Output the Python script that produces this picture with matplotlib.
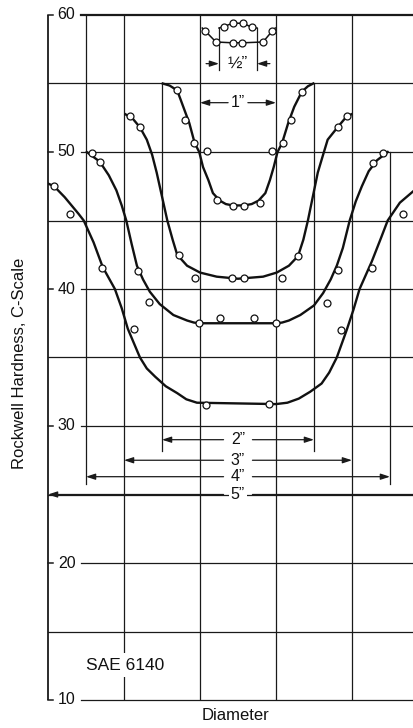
import matplotlib
matplotlib.use("Agg")
import matplotlib.pyplot as plt

plt.rcParams['font.family'] = ['Liberation Sans', 'DejaVu Sans']

# ---------------- data (diameter position in inches, Rockwell C hardness) ----------------
# 1/2" bar
half_x = [-0.25, -0.19, -0.07, 0.07, 0.18, 0.25]
half_y = [59.05, 59.15, 59.4, 59.4, 59.1, 59.05]
half_px = [-0.19, -0.07, 0.07, 0.18]
half_py = [59.15, 59.4, 59.4, 59.1]

# 1" bar
one_x = [-0.47, -0.43, -0.29, -0.07, 0.06, 0.33, 0.45, 0.49]
one_y = [59.05, 58.83, 58.03, 57.97, 57.97, 58.03, 58.83, 59.05]
one_px = [-0.43, -0.29, -0.07, 0.05, 0.33, 0.45]
one_py = [58.83, 58.03, 57.96, 57.96, 58.03, 58.83]

# 2" bar
two_x = [-0.99, -0.9, -0.8, -0.72, -0.64, -0.57, -0.51, -0.46, -0.39, -0.33, -0.24, -0.16,
         -0.07, 0.08, 0.18, 0.27, 0.36, 0.42, 0.47, 0.52, 0.58, 0.66, 0.74, 0.84, 0.92, 0.99]
two_y = [55.0, 54.85, 54.5, 53.3, 52.1, 50.65, 50.0, 48.9, 47.95, 47.0, 46.45, 46.2,
         46.1, 46.1, 46.2, 46.45, 47.0, 47.95, 48.9, 50.0, 50.65, 52.1, 53.3, 54.4, 54.8, 55.0]
two_px = [-0.8, -0.7, -0.58, -0.41, -0.28, -0.07, 0.08, 0.29, 0.45, 0.59, 0.7, 0.84]
two_py = [54.5, 52.3, 50.65, 50.1, 46.5, 46.05, 46.05, 46.3, 50.1, 50.65, 52.3, 54.4]

# 3" bar
three_x = [-1.48, -1.38, -1.29, -1.2, -1.13, -1.07, -0.93, -0.86, -0.8, -0.67, -0.5, -0.28,
           0.0, 0.33, 0.51, 0.67, 0.79, 0.86, 0.92, 1.05, 1.12, 1.18, 1.31, 1.4, 1.49]
three_y = [52.75, 52.4, 51.8, 50.9, 49.8, 48.5, 45.0, 43.6, 42.5, 41.7, 41.2, 40.9,
           40.75, 40.9, 41.2, 41.7, 42.4, 43.6, 45.0, 48.5, 49.8, 50.9, 51.8, 52.4, 52.75]
three_px = [-1.42, -1.29, -0.78, -0.57, -0.08, 0.08, 0.58, 0.79, 1.31, 1.43]
three_py = [52.6, 51.8, 42.5, 40.8, 40.8, 40.8, 40.8, 42.4, 51.8, 52.6]

# 4" bar
four_x = [-1.99, -1.82, -1.7, -1.6, -1.53, -1.47, -1.4, -1.33, -1.25, -1.16, -1.03,
          -0.85, -0.67, -0.58, -0.5, 0.5, 0.58, 0.67, 0.82, 1.0, 1.12, 1.22, 1.3, 1.38,
          1.47, 1.55, 1.63, 1.72, 1.83, 1.97]
four_y = [50.0, 49.3, 48.3, 47.2, 46.1, 45.0, 43.3, 41.7, 40.7, 39.8, 38.9,
          38.1, 37.7, 37.55, 37.5, 37.5, 37.55, 37.7, 38.1, 38.8, 39.7, 40.7, 41.7, 43.0,
          45.0, 46.4, 47.5, 48.6, 49.4, 50.0]
four_px = [-1.92, -1.82, -1.32, -1.17, -0.51, -0.24, 0.21, 0.5, 1.17, 1.32, 1.78, 1.91]
four_py = [49.9, 49.3, 41.3, 39.05, 37.5, 37.9, 37.9, 37.5, 39.0, 41.4, 49.2, 49.9]

# 5" bar
five_x = [-2.5, -2.42, -2.28, -2.1, -2.03, -1.9, -1.78, -1.62, -1.53, -1.45, -1.29, -1.2,
          -1.09, -0.95, -0.8, -0.68, -0.54, 0.5, 0.65, 0.8, 0.95, 1.1, 1.2, 1.3, 1.43,
          1.52, 1.6, 1.76, 1.88, 1.97, 2.13, 2.32]
five_y = [47.7, 47.5, 46.7, 45.5, 45.0, 43.4, 41.6, 40.0, 38.6, 37.1, 35.0, 34.2,
          33.6, 32.9, 32.4, 31.95, 31.7, 31.6, 31.7, 32.0, 32.5, 33.1, 33.9, 35.0, 37.0,
          38.5, 40.0, 42.0, 43.7, 45.0, 46.3, 47.2]
five_px = [-2.42, -2.21, -1.79, -1.37, -0.42, 0.41, 1.36, 1.76, 2.17]
five_py = [47.5, 45.5, 41.5, 37.1, 31.5, 31.6, 37.0, 41.5, 45.5]

dim_labels = ['\u00bd\u201d', '1\u201d', '2\u201d', '3\u201d', '4\u201d', '5\u201d']
diameters = [0.5, 1, 2, 3, 4, 5]

y_ticks = [10, 20, 30, 40, 50, 60]
y_minor = [15, 25, 35, 45, 55]

# ---------------- figure ----------------
W, H = 414, 728
fig = plt.figure(figsize=(W / 100, H / 100), dpi=100)
ax = fig.add_axes([48 / W, 28 / H, (W - 48) / W, (700 - 15) / H])
XMIN, XMAX = -2.5, 2.316
ax.set_xlim(XMIN, XMAX)
ax.set_ylim(10, 60)
ax.axis('off')

LC = '#1a1a1a'
GLW = 0.9

# spine
ax.plot([XMIN, XMIN], [10, 60], color=LC, lw=1.3, solid_capstyle='butt', clip_on=False)
# labelled gridlines + ticks
for v in y_ticks:
    lw = 1.6 if v == 60 else GLW
    ax.plot([-2.07, XMAX], [v, v], color=LC, lw=lw, clip_on=False)
    ax.plot([XMIN, -2.44], [v, v], color=LC, lw=1.1, clip_on=False)
    ax.text(-2.255, v, str(v), ha='center', va='center', fontsize=11.5, color='#111')
for v in y_minor:
    ax.plot([XMIN, XMAX], [v, v], color=LC, lw=GLW, clip_on=False)

# full-height vertical grid lines
for xv in [-1.5, -0.5, 0.5, 1.5]:
    ax.plot([xv, xv], [10, 60], color=LC, lw=GLW)
# extension lines
ax.plot([-2, -2], [25.8, 60], color=LC, lw=GLW)
ax.plot([2, 2], [25.8, 50], color=LC, lw=GLW)
ax.plot([-1, -1], [28.2, 55], color=LC, lw=GLW)
ax.plot([1, 1], [28.2, 55], color=LC, lw=GLW)
ax.plot([-0.25, -0.25], [56.0, 59.05], color=LC, lw=GLW)
ax.plot([0.25, 0.25], [56.0, 59.05], color=LC, lw=GLW)

# curves
curves = [(half_x, half_y, half_px, half_py), (one_x, one_y, one_px, one_py),
          (two_x, two_y, two_px, two_py), (three_x, three_y, three_px, three_py),
          (four_x, four_y, four_px, four_py), (five_x, five_y, five_px, five_py)]
for i, (cx, cy, px, py) in enumerate(curves):
    lw = 1.1 if i < 2 else 1.7
    ax.plot(cx, cy, color='#111', lw=lw, solid_joinstyle='round', zorder=3)
    ax.plot(px, py, 'o', ms=5, mfc='white', mec='#111', mew=0.9, zorder=4, clip_on=False)

# dimension lines
arrow_kw = dict(arrowstyle='-|>,head_length=0.55,head_width=0.18', color=LC, lw=0.9,
                shrinkA=0, shrinkB=0)
dim_y = [56.45, 53.6, 29.0, 27.5, 26.3, 25.0]
for lab, d, yy in zip(dim_labels, diameters, dim_y):
    r = d / 2
    if d == 0.5:
        ax.annotate('', xy=(-r, yy), xytext=(-r - 0.17, yy), arrowprops=arrow_kw)
        ax.annotate('', xy=(r, yy), xytext=(r + 0.17, yy), arrowprops=arrow_kw)
        ax.text(0, yy, lab, ha='center', va='center', fontsize=12.5, color='#111')
    else:
        g = 0.13 if d == 1 else 0.19
        ax.annotate('', xy=(-r, yy), xytext=(-g, yy), arrowprops=arrow_kw, annotation_clip=False)
        ax.annotate('', xy=(r, yy), xytext=(g, yy), arrowprops=arrow_kw, annotation_clip=False)
        ax.text(0, yy, lab, ha='center', va='center', fontsize=11.5, color='#111',
                bbox=dict(facecolor='white', edgecolor='none', pad=1.5), zorder=5)

ax.text(-2.0, 12.55, 'SAE 6140', ha='left', va='center', fontsize=12.5, color='#111',
        bbox=dict(facecolor='white', edgecolor='none', pad=3), zorder=5)

fig.text(20 / W, 1 - 363 / H, 'Rockwell Hardness, C-Scale', rotation=90, ha='center',
         va='center', fontsize=12, color='#111')
fig.text(236 / W, 1 - 716 / H, 'Diameter', ha='center', va='center', fontsize=12,
         color='#111')

fig.savefig('out.png', dpi=100, facecolor='white')
